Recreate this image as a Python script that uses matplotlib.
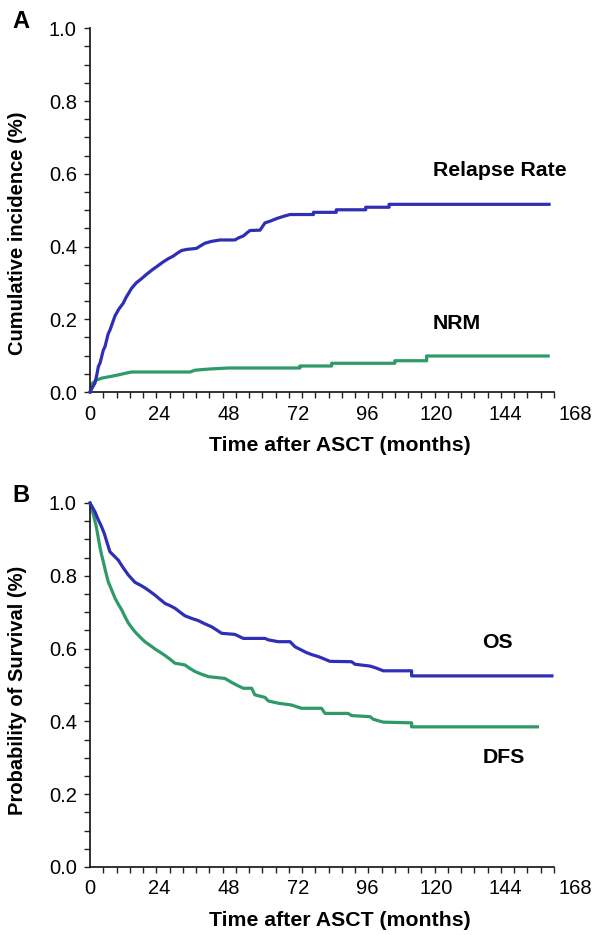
import numpy as np
import matplotlib.pyplot as plt
from matplotlib.ticker import FixedLocator

plt.rcParams["font.family"] = ["Liberation Sans", "DejaVu Sans"]

# ── Panel A: cumulative incidence (repeated times mark a vertical step) ──────
relapse_t = [0, 1, 1.7, 2.3, 2.9, 3.5, 4.6, 5.2, 6.3, 6.9, 7.8, 8.7, 10, 11.5,
             12.5, 14.4, 16, 17.9, 19.5, 21.4, 23.5, 25.4, 27, 28.9, 30.3, 31.7,
             33.5, 36.9, 38.3, 39.8, 42, 45, 50.2, 51.5, 53.1, 54.3, 55.4, 58.9,
             60.6, 62.5, 64.7, 67, 69.3, 77.4, 77.4, 85.3, 85.3, 95.5, 95.5,
             103.6, 103.6, 159]
relapse_y = [0, 0.015, 0.024, 0.045, 0.07, 0.08, 0.115, 0.125, 0.16, 0.17, 0.19,
             0.21, 0.228, 0.244, 0.26, 0.285, 0.30, 0.312, 0.323, 0.335, 0.347,
             0.358, 0.366, 0.374, 0.382, 0.389, 0.392, 0.395, 0.402, 0.409, 0.414,
             0.418, 0.418, 0.424, 0.429, 0.437, 0.444, 0.445, 0.465, 0.470, 0.477,
             0.483, 0.488, 0.488, 0.494, 0.494, 0.501, 0.501, 0.508, 0.508,
             0.516, 0.516]

nrm_t = [0, 0.4, 0.8, 1.5, 2.3, 4.0, 6, 8, 9.8, 12, 14.4, 34.6, 36.4, 41.0,
         47.9, 72.7, 72.7, 83.7, 83.7, 105.6, 105.6, 116.6, 116.6, 158.7]
nrm_y = [0, 0.012, 0.024, 0.028, 0.033, 0.038, 0.041, 0.044, 0.047, 0.051,
         0.055, 0.055, 0.060, 0.063, 0.066, 0.066, 0.0715, 0.0715, 0.079,
         0.079, 0.086, 0.086, 0.099, 0.099]

# ── Panel B: survival ────────────────────────────────────────────────────────
os_t = [0, 1.7, 2.8, 4.0, 5.0, 5.8, 6.9, 8.3, 9.8, 11.5, 13.3, 15.6, 17.3, 19.0,
        20.8, 22.5, 24.3, 26.0, 27.7, 29.4, 31.2, 32.9, 35.2, 37.5, 39.8, 42.1,
        43.9, 45.6, 50.2, 53.1, 60.6, 61.8, 65.2, 69.3, 71.0, 73, 75, 77, 79.1,
        81, 83.1, 90.6, 91.8, 97, 99, 101.6, 111.4, 111.4, 160]
os_y = [1.0, 0.976, 0.955, 0.935, 0.915, 0.894, 0.866, 0.855, 0.843, 0.822,
        0.802, 0.782, 0.775, 0.767, 0.757, 0.747, 0.735, 0.724, 0.718, 0.711,
        0.700, 0.690, 0.683, 0.677, 0.668, 0.660, 0.651, 0.642, 0.639, 0.628,
        0.628, 0.624, 0.619, 0.619, 0.605, 0.597, 0.589, 0.583, 0.578, 0.572,
        0.565, 0.564, 0.557, 0.552, 0.547, 0.539, 0.539, 0.525, 0.525]

dfs_t = [0, 0.6, 1.2, 1.8, 2.3, 2.9, 3.5, 4.0, 4.6, 5.4, 6.3, 7.5, 8.7, 9.8,
         11.0, 12.1, 13.3, 14.4, 15.6, 17.3, 19.0, 20.8, 22.5, 24.3, 26.0, 27.7,
         29.4, 32.9, 34.5, 36.4, 38.5, 41.0, 46.7, 49.1, 51, 53.1, 56.0, 57.1,
         60.6, 61.8, 65.2, 69.8, 73.3, 80.2, 81.4, 89.4, 90.6, 97, 98.1, 101.6,
         111.4, 111.4, 155]
dfs_y = [1.0, 0.985, 0.967, 0.948, 0.930, 0.903, 0.876, 0.858, 0.839, 0.812,
         0.784, 0.761, 0.738, 0.722, 0.706, 0.688, 0.670, 0.658, 0.646, 0.632,
         0.619, 0.609, 0.599, 0.590, 0.581, 0.571, 0.560, 0.555, 0.546, 0.537,
         0.530, 0.523, 0.518, 0.507, 0.499, 0.491, 0.491, 0.473, 0.466, 0.456,
         0.450, 0.445, 0.436, 0.436, 0.422, 0.422, 0.416, 0.413, 0.406, 0.398,
         0.396, 0.385, 0.385]

month_ticks = [0, 24, 48, 72, 96, 120, 144, 168]
prob_ticks = [0.0, 0.2, 0.4, 0.6, 0.8, 1.0]

BLUE = "#2f2fb5"
GREEN = "#2e9a69"
AXIS_END = 160.7     # x spine stops short of the last tick label
TICK_FS = 14.5
XLABEL_FS = 15.3
YLABEL_FS = 14.5
NOTE_FS = 15.3


def style_axes(ax, ylabel, label_y):
    ax.set_xlim(0, 168)
    ax.set_ylim(0, 1.0)
    for side in ("top", "right"):
        ax.spines[side].set_visible(False)
    for side in ("left", "bottom"):
        ax.spines[side].set_linewidth(1.2)
        ax.spines[side].set_color("#111111")
    ax.spines["bottom"].set_bounds(0, AXIS_END)

    ax.set_xticks(month_ticks)
    ax.set_xticklabels([str(m) for m in month_ticks])
    ax.xaxis.set_minor_locator(FixedLocator(np.linspace(0, AXIS_END, 36)))
    ax.tick_params(axis="x", which="major", length=0, pad=9, labelsize=TICK_FS)
    ax.tick_params(axis="x", which="minor", length=4, width=1, color="#222222")

    ax.set_yticks(prob_ticks)
    ax.set_yticklabels([f"{v:.1f}" for v in prob_ticks])
    ax.yaxis.set_minor_locator(FixedLocator(np.arange(0, 1.0001, 0.05)))
    ax.tick_params(axis="y", which="major", length=4.5, width=1, pad=5,
                   labelsize=TICK_FS, color="#222222")
    ax.tick_params(axis="y", which="minor", length=4.5, width=1, color="#222222")

    ax.set_xlabel("Time after ASCT (months)", fontsize=XLABEL_FS, fontweight="bold")
    ax.xaxis.set_label_coords(0.515, -0.146)
    ax.xaxis.label.set_verticalalignment("center")
    ax.set_ylabel(ylabel, fontsize=YLABEL_FS, fontweight="bold")
    ax.yaxis.set_label_coords(-0.149, label_y)
    ax.yaxis.label.set_verticalalignment("center")


fig = plt.figure(figsize=(6.05, 9.35), dpi=100)
ax_a = fig.add_axes([90 / 605, 1 - 392 / 935, 485 / 605, 363.7 / 935])
ax_b = fig.add_axes([90 / 605, 1 - 867 / 935, 485 / 605, 364 / 935])

ax_a.plot(relapse_t, relapse_y, color=BLUE, lw=2.3, clip_on=False, zorder=3)
ax_a.plot(nrm_t, nrm_y, color=GREEN, lw=2.3, clip_on=False, zorder=2)
ax_a.text(118.8, 0.608, "Relapse Rate", fontsize=NOTE_FS, fontweight="bold",
          va="center", ha="left")
ax_a.text(118.8, 0.187, "NRM", fontsize=NOTE_FS, fontweight="bold",
          va="center", ha="left")
style_axes(ax_a, "Cumulative incidence (%)", 0.437)

ax_b.plot(os_t, os_y, color=BLUE, lw=2.3, clip_on=False, zorder=3)
ax_b.plot(dfs_t, dfs_y, color=GREEN, lw=2.3, clip_on=False, zorder=2)
ax_b.text(136, 0.617, "OS", fontsize=NOTE_FS, fontweight="bold",
          va="center", ha="left")
ax_b.text(136, 0.301, "DFS", fontsize=NOTE_FS, fontweight="bold",
          va="center", ha="left")
style_axes(ax_b, "Probability of Survival (%)", 0.484)

fig.text(21 / 605, 1 - 22 / 935, "A", fontsize=17, fontweight="bold",
         ha="center", va="center")
fig.text(21 / 605, 1 - 495 / 935, "B", fontsize=17, fontweight="bold",
         ha="center", va="center")

fig.savefig("out.png", dpi=100)
